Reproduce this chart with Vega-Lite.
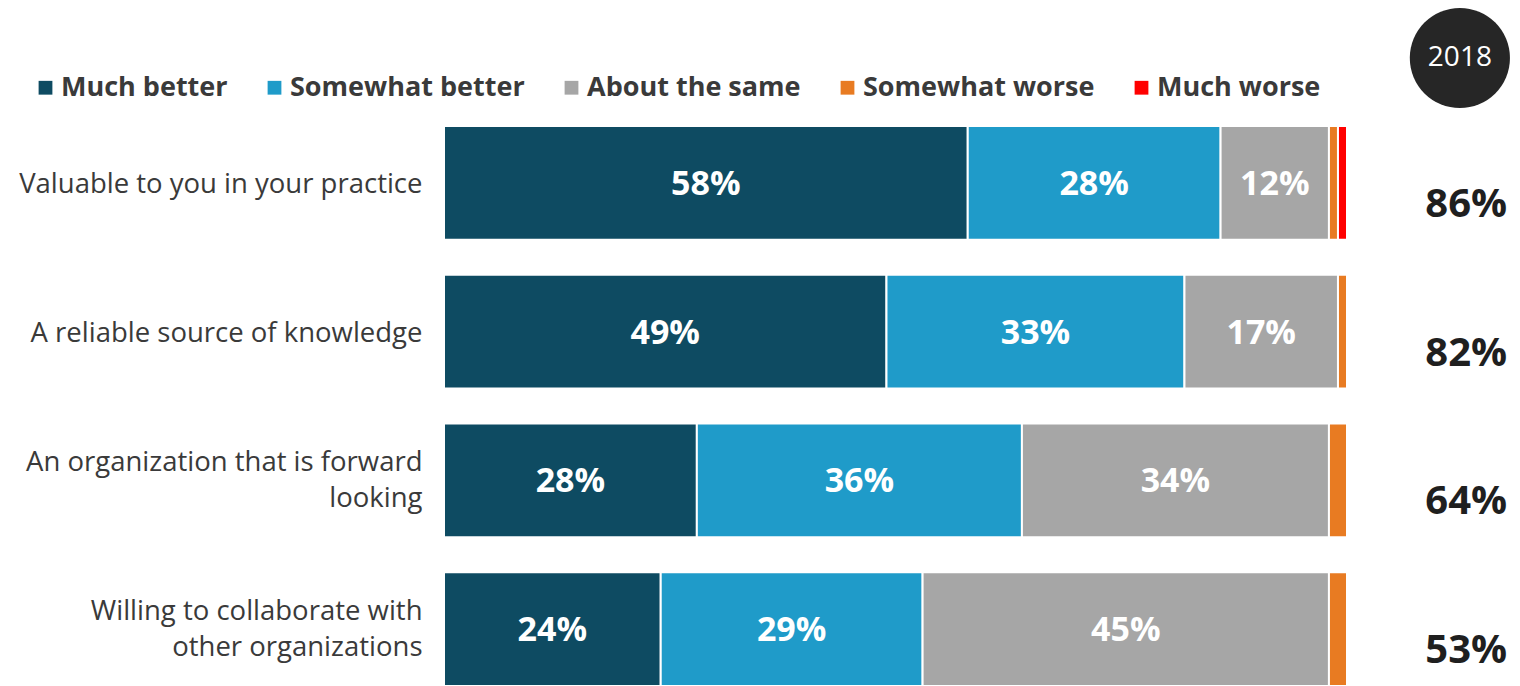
{
  "$schema": "https://vega.github.io/schema/vega-lite/v6.json",
  "width": 903,
  "height": 560,
  "autosize": {"type": "none"},
  "padding": {"left": 444, "top": 126, "right": 173, "bottom": 0},
  "background": "white",
  "config": {"view": {"stroke": null}, "font": "Open Sans"},
  "datasets": {
    "main": [
      {"category": "Valuable to you in your practice", "response": "Much better", "ord": 1, "value": 58},
      {"category": "Valuable to you in your practice", "response": "Somewhat better", "ord": 2, "value": 28},
      {"category": "Valuable to you in your practice", "response": "About the same", "ord": 3, "value": 12},
      {"category": "Valuable to you in your practice", "response": "Somewhat worse", "ord": 4, "value": 1},
      {"category": "Valuable to you in your practice", "response": "Much worse", "ord": 5, "value": 1},
      {"category": "A reliable source of knowledge", "response": "Much better", "ord": 1, "value": 49},
      {"category": "A reliable source of knowledge", "response": "Somewhat better", "ord": 2, "value": 33},
      {"category": "A reliable source of knowledge", "response": "About the same", "ord": 3, "value": 17},
      {"category": "A reliable source of knowledge", "response": "Somewhat worse", "ord": 4, "value": 1},
      {"category": "A reliable source of knowledge", "response": "Much worse", "ord": 5, "value": 0},
      {"category": "An organization that is forward looking", "response": "Much better", "ord": 1, "value": 28},
      {"category": "An organization that is forward looking", "response": "Somewhat better", "ord": 2, "value": 36},
      {"category": "An organization that is forward looking", "response": "About the same", "ord": 3, "value": 34},
      {"category": "An organization that is forward looking", "response": "Somewhat worse", "ord": 4, "value": 2},
      {"category": "An organization that is forward looking", "response": "Much worse", "ord": 5, "value": 0},
      {"category": "Willing to collaborate with other organizations", "response": "Much better", "ord": 1, "value": 24},
      {"category": "Willing to collaborate with other organizations", "response": "Somewhat better", "ord": 2, "value": 29},
      {"category": "Willing to collaborate with other organizations", "response": "About the same", "ord": 3, "value": 45},
      {"category": "Willing to collaborate with other organizations", "response": "Somewhat worse", "ord": 4, "value": 2},
      {"category": "Willing to collaborate with other organizations", "response": "Much worse", "ord": 5, "value": 0}
    ],
    "totals": [
      {"category": "Valuable to you in your practice", "total": 86},
      {"category": "A reliable source of knowledge", "total": 82},
      {"category": "An organization that is forward looking", "total": 64},
      {"category": "Willing to collaborate with other organizations", "total": 53}
    ],
    "year": [{"year": "2018"}]
  },
  "resolve": {"scale": {"y": "independent"}},
  "layer": [
    {
      "encoding": {
        "y": {
          "field": "category",
          "type": "nominal",
          "sort": ["Valuable to you in your practice", "A reliable source of knowledge", "An organization that is forward looking", "Willing to collaborate with other organizations"],
          "scale": {"paddingInner": 0.235, "paddingOuter": 0},
          "axis": {
            "title": null,
            "domain": false,
            "ticks": false,
            "labelFont": "Open Sans",
            "labelFontSize": 27.5,
            "labelColor": "#3a3a3a",
            "labelPadding": 22,
            "labelLimit": 600,
            "labelLineHeight": 36,
            "labelOffset": {"condition": {"test": "indexof(datum.value, 'forward') >= 0 || indexof(datum.value, 'collaborate') >= 0", "value": -17}, "value": 2},
            "labelExpr": "datum.label == 'An organization that is forward looking' ? ['An organization that is forward', 'looking'] : datum.label == 'Willing to collaborate with other organizations' ? ['Willing to collaborate with', 'other organizations'] : datum.label"
          }
        }
      },
      "layer": [
        {
          "data": {"name": "main"},
          "transform": [
            {"stack": "value", "groupby": ["category"], "sort": [{"field": "ord"}], "as": ["x0", "x1"]}
          ],
          "mark": {"type": "bar", "stroke": "white", "strokeWidth": 2},
          "encoding": {
            "x": {"field": "x0", "type": "quantitative", "scale": {"domain": [0, 100], "nice": false, "zero": true}, "axis": null},
            "x2": {"field": "x1"},
            "color": {
              "field": "response",
              "type": "nominal",
              "scale": {
                "domain": ["Much better", "Somewhat better", "About the same", "Somewhat worse", "Much worse"],
                "range": ["#0e4b62", "#1f9bc9", "#a6a6a6", "#e87b22", "#ff0000"]
              },
              "legend": {
                "title": null,
                "orient": "none",
                "direction": "horizontal",
                "legendX": -412,
                "legendY": -52,
                "symbolType": "square",
                "symbolSize": 190,
                "symbolStrokeWidth": 0,
                "labelFont": "Open Sans",
                "labelFontSize": 27,
                "labelFontWeight": "bold",
                "labelColor": "#3a3a3a",
                "labelOffset": 2,
                "columnPadding": 33,
                "labelLimit": 400
              }
            }
          }
        },
        {
          "data": {"name": "main"},
          "transform": [
            {"stack": "value", "groupby": ["category"], "sort": [{"field": "ord"}], "as": ["x0", "x1"]},
            {"filter": "datum.value >= 5"},
            {"calculate": "(datum.x0 + datum.x1) / 2", "as": "mid"},
            {"calculate": "datum.value + '%'", "as": "label"}
          ],
          "mark": {"type": "text", "color": "white", "font": "Open Sans", "fontWeight": "bold", "fontSize": 34, "baseline": "middle", "align": "center", "dy": 2},
          "encoding": {
            "x": {"field": "mid", "type": "quantitative"},
            "text": {"field": "label"}
          }
        },
        {
          "data": {"name": "totals"},
          "transform": [{"calculate": "datum.total + '%'", "as": "label"}],
          "mark": {"type": "text", "color": "#1f1f1f", "font": "Open Sans", "fontWeight": "bold", "fontSize": 40, "baseline": "middle", "align": "center", "dy": 22},
          "encoding": {
            "x": {"datum": 113.2, "type": "quantitative"},
            "text": {"field": "label"}
          }
        }
      ]
    },
    {
      "data": {"name": "year"},
      "encoding": {
        "x": {"datum": 112.5, "type": "quantitative"},
        "y": {"datum": 1.1214, "type": "quantitative", "scale": {"domain": [0, 1], "nice": false}, "axis": null}
      },
      "layer": [
        {"mark": {"type": "point", "shape": "circle", "filled": true, "color": "#262626", "opacity": 1, "size": 10030}},
        {"mark": {"type": "text", "color": "white", "font": "Open Sans", "fontSize": 28, "baseline": "middle", "align": "center"}, "encoding": {"text": {"field": "year"}}}
      ]
    }
  ]
}
